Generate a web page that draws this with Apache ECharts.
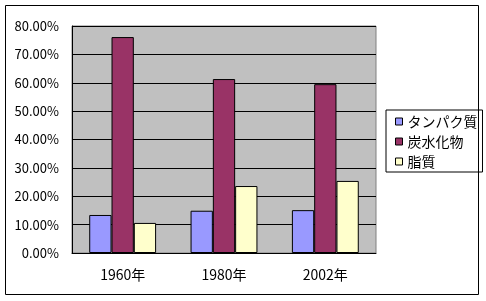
<!DOCTYPE html>
<html><head><meta charset="utf-8">
<script src="https://cdn.jsdelivr.net/npm/echarts@6/dist/echarts.min.js"></script>
<style>html,body{margin:0;padding:0;background:#fff}#c{width:486px;height:301px}</style>
</head><body><div id="c"></div>
<script>
var categories = ['1960年', '1980年', '2002年'];
var seriesNames = ['タンパク質', '炭水化物', '脂質'];
var protein = [13.4, 14.9, 15.1];
var carbs = [76.1, 61.3, 59.5];
var fat = [10.6, 23.6, 25.4];
var colors = ['#9999FF', '#993366', '#FFFFCC'];

var chart = echarts.init(document.getElementById('c'), null, {renderer: 'canvas'});
var font = '"Noto Sans CJK JP", sans-serif';
var values = [protein, carbs, fat];
var series = seriesNames.map(function (n, i) {
  return {
    name: n, type: 'bar', data: values[i],
    barGap: '0%', barCategoryGap: '34%',
    itemStyle: {color: colors[i], borderColor: '#000', borderWidth: 1},
    emphasis: {disabled: true}
  };
});
chart.setOption({
  animation: false,
  textStyle: {fontFamily: font},
  grid: {left: 72, top: 26, right: 110, bottom: 48, show: true,
         backgroundColor: '#C0C0C0', borderColor: '#808080', borderWidth: 1},
  legend: {
    orient: 'vertical', left: 386, top: 110,
    data: seriesNames,
    icon: 'rect', itemWidth: 7, itemHeight: 7, itemGap: 5,
    padding: [4, 5, 3, 9],
    borderColor: '#000', borderWidth: 1, backgroundColor: '#fff',
    itemStyle: {borderColor: '#000', borderWidth: 1},
    textStyle: {fontFamily: font, fontSize: 14, color: '#000', lineHeight: 15},
    selectedMode: false
  },
  graphic: [{type: 'rect', shape: {x: 5.5, y: 5.5, width: 473, height: 289},
             style: {fill: null, stroke: '#000', lineWidth: 1}, silent: true, z: 100}],
  xAxis: {
    type: 'category', data: categories,
    axisLine: {lineStyle: {color: '#000', width: 1}},
    axisTick: {inside: true, length: 4, lineStyle: {color: '#000'}},
    axisLabel: {color: '#000', fontSize: 14, margin: 15, fontFamily: font}
  },
  yAxis: {
    type: 'value', min: 0, max: 80, interval: 10,
    axisLine: {show: true, lineStyle: {color: '#000', width: 1}},
    axisTick: {show: true, inside: true, length: 4, lineStyle: {color: '#000'}},
    splitLine: {lineStyle: {color: '#000', width: 1}},
    axisLabel: {color: '#000', fontSize: 13, margin: 13, fontFamily: font,
                formatter: function (v) { return v.toFixed(2) + '%'; }}
  },
  series: series
});
</script></body></html>
